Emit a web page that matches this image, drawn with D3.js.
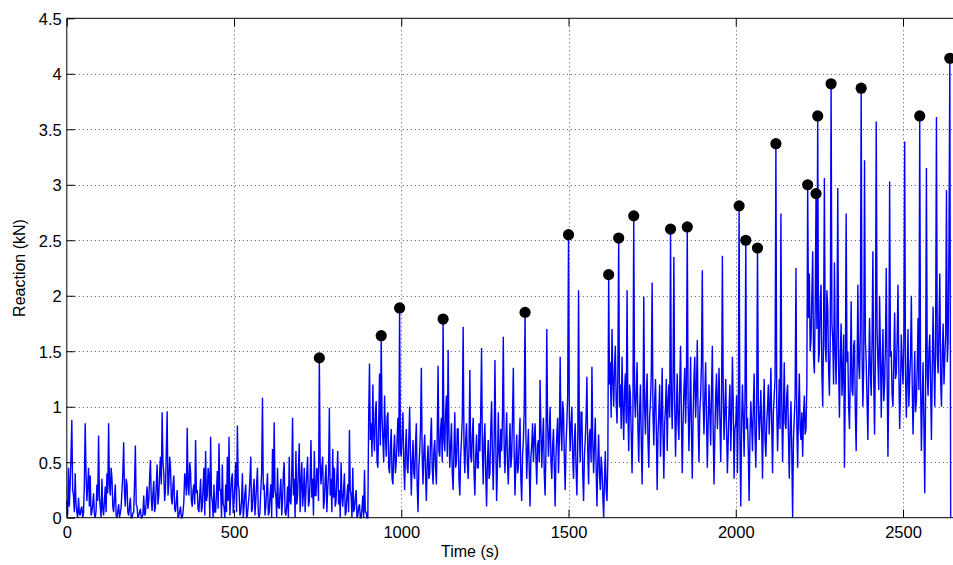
<!DOCTYPE html>
<html>
<head>
<meta charset="utf-8">
<script src="https://cdnjs.cloudflare.com/ajax/libs/d3/7.8.5/d3.min.js"></script>
<style>
  body { margin: 0; background: #fff; }
  text { font-family: "Liberation Sans", Arial, Helvetica, sans-serif; fill: #000; }
</style>
</head>
<body>
<script>
// sampled reaction signal, one value every dt seconds starting at t = 0
var dt = 2.5;
var reaction = [
  // 0 - 97.5
  0.15,0.02,0.45,0.10,0.30,0.55,0.88,0.25,0.20,0.05,0.40,0.12,0.05,0.00,0.18,0.04,0.02,0.08,0.10,0.00,
  0.04,0.30,0.85,0.40,0.15,0.28,0.45,0.10,0.38,0.02,0.05,0.12,0.22,0.03,0.00,0.06,0.30,0.15,0.74,0.20,
  // 100 - 197.5
  0.10,0.00,0.35,0.08,0.02,0.15,0.28,0.05,0.40,0.22,0.85,0.30,0.20,0.45,0.36,0.10,0.05,0.18,0.30,0.02,
  0.00,0.06,0.12,0.00,0.04,0.10,0.25,0.40,0.68,0.22,0.10,0.35,0.30,0.05,0.02,0.10,0.18,0.00,0.00,0.04,
  // 200 - 297.5
  0.05,0.30,0.65,0.12,0.10,0.00,0.02,0.05,0.08,0.00,0.00,0.03,0.20,0.02,0.04,0.15,0.28,0.08,0.15,0.35,
  0.52,0.18,0.06,0.22,0.33,0.05,0.10,0.30,0.48,0.12,0.20,0.40,0.55,0.30,0.95,0.50,0.40,0.15,0.25,0.60,
  // 300 - 397.5
  0.96,0.20,0.30,0.55,0.45,0.18,0.12,0.30,0.38,0.08,0.05,0.15,0.25,0.00,0.02,0.06,0.10,0.00,0.00,0.05,
  0.15,0.40,0.35,0.20,0.81,0.28,0.20,0.50,0.42,0.15,0.10,0.25,0.30,0.12,0.70,0.22,0.25,0.08,0.05,0.20,
  // 400 - 497.5
  0.35,0.05,0.10,0.28,0.45,0.02,0.60,0.15,0.20,0.45,0.38,0.00,0.73,0.20,0.15,0.00,0.30,0.05,0.05,0.22,
  0.42,0.08,0.67,0.25,0.25,0.00,0.48,0.12,0.10,0.00,0.30,0.05,0.55,0.15,0.73,0.02,0.20,0.35,0.40,0.04,
  // 500 - 597.5
  0.15,0.30,0.50,0.05,0.83,0.30,0.25,0.02,0.05,0.15,0.40,0.00,0.10,0.22,0.30,0.00,0.02,0.12,0.20,0.35,
  0.55,0.05,0.08,0.25,0.35,0.02,0.15,0.30,0.45,0.04,0.00,0.05,0.25,0.40,1.08,0.25,0.30,0.02,0.10,0.25,
  // 600 - 697.5
  0.40,0.02,0.05,0.20,0.30,0.00,0.62,0.18,0.86,0.25,0.20,0.00,0.45,0.10,0.08,0.25,0.35,0.02,0.15,0.40,
  0.50,0.05,0.02,0.10,0.28,0.00,0.55,0.15,0.12,0.38,0.90,0.20,0.35,0.00,0.60,0.12,0.20,0.45,0.67,0.05,
  // 700 - 797.5
  0.30,0.50,0.10,0.22,0.45,0.05,0.25,0.40,0.55,0.10,0.15,0.35,0.70,0.18,0.35,0.02,0.60,0.20,0.20,0.45,
  0.40,0.15,1.44,0.50,0.30,0.45,0.55,0.08,0.15,0.35,0.48,0.05,0.25,0.40,0.99,0.20,0.35,0.05,0.62,0.18,
  // 800 - 897.5
  0.45,0.10,0.15,0.38,0.60,0.12,0.25,0.00,0.50,0.20,0.10,0.25,0.40,0.02,0.05,0.20,0.30,0.05,0.79,0.25,
  0.20,0.00,0.45,0.05,0.08,0.18,0.25,0.00,0.02,0.10,0.12,0.00,0.00,0.08,0.20,0.00,0.43,0.05,0.05,0.00,
  // 900 - 997.5
  0.00,0.90,1.39,0.70,0.85,0.55,1.20,0.75,0.60,0.95,1.05,0.50,0.45,0.85,1.30,0.65,1.64,0.90,0.70,0.50,
  1.10,0.75,0.55,0.90,0.95,0.45,0.40,0.65,0.80,0.35,0.30,0.60,0.75,0.40,0.50,0.70,0.90,0.55,1.89,0.60,
  // 1000 - 1097.5
  0.55,0.75,0.95,0.50,0.25,0.60,0.80,0.45,0.40,0.70,1.00,0.55,0.20,0.50,0.70,0.40,0.35,0.65,0.85,0.30,
  0.05,0.45,0.60,0.80,1.35,0.55,0.30,0.60,0.75,0.40,0.15,0.50,0.65,0.35,0.40,0.70,0.90,0.45,0.30,0.60,
  // 1100 - 1197.5
  0.70,0.45,0.30,0.75,1.37,0.60,0.55,0.80,0.90,0.50,1.79,0.70,0.60,0.95,1.10,0.55,1.51,0.75,0.45,0.65,
  0.85,0.40,0.25,0.60,0.95,0.45,0.50,0.80,0.80,0.35,0.20,0.55,0.70,0.90,1.72,0.65,0.40,0.70,0.85,0.50,
  // 1200 - 1297.5
  0.35,0.65,1.33,0.55,0.50,0.75,0.90,0.40,0.20,0.55,0.75,0.45,0.45,0.85,0.60,0.95,1.53,0.60,0.30,0.70,
  0.85,0.40,0.10,0.50,0.70,0.35,0.40,0.80,1.05,0.55,0.25,0.65,1.42,0.70,0.15,0.45,0.95,0.60,0.45,0.80,
  // 1300 - 1397.5
  0.60,0.90,1.63,0.65,0.40,0.70,0.95,0.50,0.30,0.60,0.85,0.45,0.55,0.90,1.35,0.60,0.20,0.50,0.75,0.40,
  0.45,0.70,0.90,0.35,0.15,0.55,0.70,0.95,1.85,0.75,0.35,0.60,0.80,0.45,0.10,0.55,0.65,0.85,0.50,0.70,
  // 1400 - 1497.5
  0.85,0.55,0.30,0.65,0.70,0.50,1.24,0.80,0.45,0.70,0.90,0.40,0.20,0.60,1.70,0.85,0.55,0.75,1.00,0.50,
  0.35,0.65,0.80,0.45,0.10,0.55,0.75,0.90,0.40,0.70,1.45,0.80,0.60,1.05,0.95,0.55,0.25,0.65,0.85,1.10,
  // 1500 - 1597.5
  2.55,0.90,0.60,0.85,1.00,0.55,0.35,0.70,0.85,0.45,0.20,0.60,2.05,0.75,0.50,0.95,0.95,0.40,0.15,0.55,
  0.70,0.90,1.27,0.60,0.30,0.75,0.80,0.50,1.36,0.70,0.40,0.65,0.90,0.45,0.10,0.50,0.75,0.40,0.25,0.55,
  // 1600 - 1697.5
  0.45,0.20,0.00,0.35,0.60,0.25,0.15,0.50,2.19,1.20,1.40,0.90,1.70,1.25,1.00,1.35,1.55,1.05,0.85,1.30,
  2.52,1.00,1.20,0.80,1.45,1.00,0.70,1.15,1.30,0.85,2.05,0.95,0.60,1.20,1.10,0.75,0.40,0.90,2.72,1.10,
  // 1700 - 1797.5
  0.90,1.15,1.40,0.80,0.50,0.95,1.20,0.70,0.30,0.85,1.99,1.00,0.75,1.10,1.30,0.70,0.45,0.90,1.05,1.30,
  2.12,0.95,0.65,1.05,1.25,0.80,0.25,0.75,0.95,1.20,0.55,0.90,1.35,0.75,0.35,0.85,1.00,1.25,0.60,1.05,
  // 1800 - 1897.5
  1.20,0.90,2.60,1.10,0.80,1.25,2.35,1.00,0.55,0.95,1.30,0.85,0.70,1.20,1.55,0.90,0.40,0.85,1.15,1.35,
  0.85,1.20,2.62,1.05,0.60,0.95,1.45,0.80,0.35,0.90,1.25,1.45,0.90,1.15,1.60,0.85,0.50,0.95,1.10,1.40,
  // 1900 - 1997.5
  2.23,1.05,0.75,1.10,1.40,0.90,0.45,0.85,1.20,0.95,0.65,1.15,1.55,0.80,0.30,0.75,1.10,1.30,0.80,1.05,
  1.35,0.90,0.50,1.00,2.36,1.15,0.70,0.95,1.25,0.80,0.40,0.70,1.00,1.20,0.60,0.90,1.45,1.00,0.35,0.80,
  // 2000 - 2097.5
  0.85,1.10,0.40,0.95,2.81,0.70,0.10,0.85,1.20,0.90,0.55,1.05,2.50,0.80,0.90,0.60,0.15,0.75,1.05,0.85,
  0.60,1.00,1.30,0.75,0.45,0.95,2.43,1.05,0.70,0.90,1.15,0.80,0.35,0.95,1.25,0.70,0.55,0.85,1.00,1.20,
  // 2100 - 2197.5
  0.75,1.00,1.35,0.85,0.40,0.95,1.10,1.25,3.37,1.00,0.60,0.90,1.25,0.80,2.74,1.05,0.50,0.95,1.40,0.85,
  0.80,1.10,1.20,0.75,0.35,0.80,1.05,0.60,0.00,0.70,0.90,1.10,2.25,0.85,0.45,0.95,1.30,0.80,0.70,0.95,
  // 2200 - 2297.5
  0.55,0.90,1.10,0.75,0.80,1.20,3.00,1.80,2.20,1.50,1.60,2.00,2.40,1.45,1.30,1.90,2.92,1.70,3.62,1.40,
  1.50,1.95,2.10,1.30,1.00,1.65,3.06,1.55,1.40,2.05,1.90,1.35,1.10,1.60,3.91,1.75,1.60,1.20,2.30,1.50,
  // 2300 - 2397.5
  1.20,1.70,2.97,1.35,0.90,1.45,1.75,1.10,1.30,1.65,0.45,1.20,2.74,1.40,1.50,1.00,0.80,1.30,1.95,1.15,
  1.10,1.55,1.60,0.95,0.60,1.25,2.10,1.40,1.25,1.70,3.87,1.50,1.00,1.35,3.22,1.60,1.40,1.05,0.70,1.30,
  // 2400 - 2497.5
  1.80,1.30,1.10,1.60,2.40,1.25,0.75,1.45,3.57,1.70,1.40,1.15,2.00,1.50,0.90,1.35,1.70,1.05,1.20,1.55,
  2.25,1.30,0.55,1.20,3.03,1.45,1.50,1.10,1.00,1.40,1.85,1.25,1.30,1.60,2.10,1.35,0.80,1.15,1.65,1.40,
  // 2500 - 2597.5
  1.20,1.55,3.39,1.30,0.90,1.25,1.70,1.00,1.25,1.45,2.00,1.20,0.75,1.10,1.50,0.95,1.05,1.35,1.80,1.15,
  3.62,1.25,0.60,1.05,1.40,0.85,0.22,1.10,3.15,1.30,1.10,1.50,1.65,1.20,0.70,1.35,1.90,1.40,1.00,1.60,
  // 2600 - 2642.5
  3.61,1.45,1.30,1.70,2.20,1.25,1.00,1.50,1.75,1.20,1.45,1.65,2.95,1.40,1.60,2.50,4.14,0.00
];

// detected peaks (black markers)
var peakTimes = [755, 940, 995, 1125, 1370, 1500, 1620, 1650, 1695, 1805, 1855,
                 2010, 2030, 2065, 2120, 2215, 2240, 2245, 2285, 2375, 2550, 2640];
var peakValues = [1.44, 1.64, 1.89, 1.79, 1.85, 2.55, 2.19, 2.52, 2.72, 2.60, 2.62,
                  2.81, 2.50, 2.43, 3.37, 3.00, 2.92, 3.62, 3.91, 3.87, 3.62, 4.14];

var xTicks = [0, 500, 1000, 1500, 2000, 2500];
var yTicks = [0, 0.5, 1, 1.5, 2, 2.5, 3, 3.5, 4, 4.5];

var W = 953, H = 565;
var pL = 66.8, pR = 951.5, pT = 18.3, pB = 517.7;

var svg = d3.select('body')
    .append('svg')
    .attr('width', W)
    .attr('height', H);

var x = d3.scaleLinear().domain([0, 2645]).range([pL, pR]);
var y = d3.scaleLinear().domain([0, 4.5]).range([pB, pT]);

// dotted grid
var grid = svg.append('g')
    .attr('stroke', '#555')
    .attr('stroke-width', 1)
    .attr('stroke-dasharray', '1,3');

grid.selectAll('line.gx')
    .data(xTicks.slice(1))
    .enter().append('line')
    .attr('x1', function(d) { return Math.round(x(d)) + 0.5; })
    .attr('x2', function(d) { return Math.round(x(d)) + 0.5; })
    .attr('y1', pT)
    .attr('y2', pB);

grid.selectAll('line.gy')
    .data(yTicks.slice(1, -1))
    .enter().append('line')
    .attr('y1', function(d) { return Math.round(y(d)) + 0.5; })
    .attr('y2', function(d) { return Math.round(y(d)) + 0.5; })
    .attr('x1', pL)
    .attr('x2', W);

// signal
var line = d3.line()
    .x(function(d, i) { return x(i * dt); })
    .y(function(d) { return y(d); });

svg.append('path')
    .datum(reaction)
    .attr('d', line)
    .attr('fill', 'none')
    .attr('stroke', '#0000ff')
    .attr('stroke-width', 1.4)
    .attr('stroke-linejoin', 'miter')
    .attr('stroke-miterlimit', 2);

// peak markers
svg.selectAll('circle.peak')
    .data(peakTimes)
    .enter().append('circle')
    .attr('cx', function(d) { return x(d); })
    .attr('cy', function(d, i) { return y(peakValues[i]); })
    .attr('r', 5.6)
    .attr('fill', '#000');

// axes (matlab style, ticks pointing inward)
var xAxis = d3.axisBottom(x).tickValues(xTicks).tickSize(-8).tickPadding(9)
    .tickFormat(d3.format('d'));
var gx = svg.append('g')
    .attr('transform', 'translate(0,' + pB + ')')
    .call(xAxis);

var xTop = d3.axisTop(x).tickValues(xTicks).tickSize(-8).tickFormat('');
var gxt = svg.append('g')
    .attr('transform', 'translate(0,' + pT + ')')
    .call(xTop);

var yAxis = d3.axisLeft(y).tickValues(yTicks).tickSize(-8).tickPadding(5)
    .tickFormat(function(d) { return d3.format('')(d); });
var gy = svg.append('g')
    .attr('transform', 'translate(' + pL + ',0)')
    .call(yAxis);

[gx, gxt, gy].forEach(function(g) {
    g.select('.domain').remove();
    g.selectAll('.tick line').attr('stroke', '#000');
    g.selectAll('text').style('font-size', '16.5px')
        .style('font-family', '"Liberation Sans", Arial, sans-serif');
});
gy.selectAll('.tick text').attr('dy', '0.36em');

// box
svg.append('line').attr('x1', pL).attr('x2', W).attr('y1', pT).attr('y2', pT)
    .attr('stroke', '#000').attr('stroke-width', 1);
svg.append('line').attr('x1', pL).attr('x2', W).attr('y1', pB).attr('y2', pB)
    .attr('stroke', '#000').attr('stroke-width', 1);
svg.append('line').attr('x1', pL).attr('x2', pL).attr('y1', pT).attr('y2', pB)
    .attr('stroke', '#000').attr('stroke-width', 1);

// labels
svg.append('text')
    .attr('x', 470)
    .attr('y', 557)
    .attr('text-anchor', 'middle')
    .style('font-size', '16px')
    .text('Time (s)');

svg.append('text')
    .attr('transform', 'translate(25,' + ((pT + pB) / 2) + ') rotate(-90)')
    .attr('text-anchor', 'middle')
    .style('font-size', '16px')
    .text('Reaction (kN)');
</script>
</body>
</html>
